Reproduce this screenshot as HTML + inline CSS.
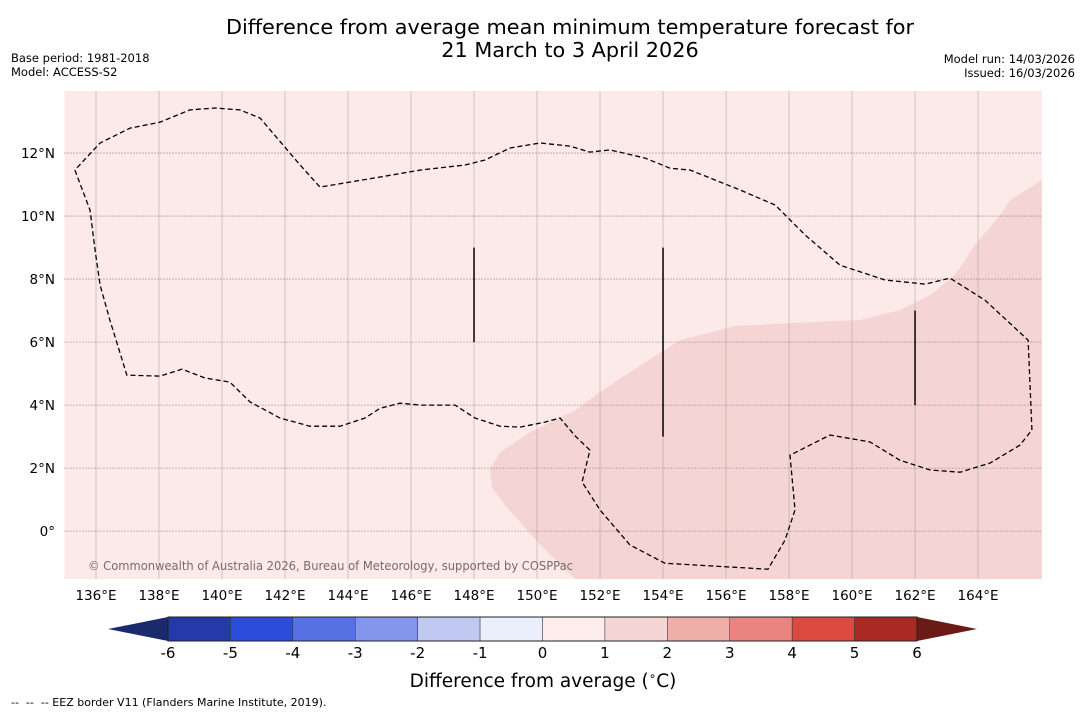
<!DOCTYPE html>
<html><head><meta charset="utf-8"><style>
body{margin:0;background:#fff;font-family:"Liberation Sans","DejaVu Sans",sans-serif;}
svg text{font-family:"DejaVu Sans","Liberation Sans",sans-serif;}
</style></head><body>
<svg id="chart" width="1085" height="713" viewBox="0 0 1085 713" xmlns="http://www.w3.org/2000/svg">
<text x="570" y="34" text-anchor="middle" font-size="20.8">Difference from average mean minimum temperature forecast for</text>
<text x="570" y="57" text-anchor="middle" font-size="20.8">21 March to 3 April 2026</text>
<text x="11" y="62" font-size="11.5">Base period: 1981-2018</text>
<text x="11" y="76" font-size="11.5">Model: ACCESS-S2</text>
<text x="1075" y="63" text-anchor="end" font-size="11.5">Model run: 14/03/2026</text>
<text x="1075" y="77" text-anchor="end" font-size="11.5">Issued: 16/03/2026</text>
<g id="map"></g>
<g id="cbar"></g>
<text x="543" y="687" text-anchor="middle" font-size="18.5">Difference from average (<tspan font-size="12" dy="-7">∘</tspan><tspan dy="7">C)</tspan></text>
<text x="11" y="706" font-size="11" xml:space="preserve">--  --  -- EEZ border V11 (Flanders Marine Institute, 2019).</text>
</svg>
<script>
const lonTicks=[136,138,140,142,144,146,148,150,152,154,156,158,160,162,164];
const latTicks=[0,2,4,6,8,10,12];
const anomalyRegion=[[148.51,1.97],[148.83,2.51],[149.78,3.14],[151.21,3.84],[152.0,4.41],[152.95,5.05],[154.54,6.06],[156.29,6.51],[158.03,6.6],[160.25,6.7],[161.52,7.02],[162.48,7.49],[163.27,8.13],[163.9,9.08],[164.7,10.03],[165.02,10.51],[166.03,11.14],[166.03,-1.52],[151.21,-1.52],[150.1,-0.44],[148.98,0.83],[148.57,1.37]];
const eezBorder=[[135.33,11.46],[135.81,10.19],[135.97,8.92],[136.13,7.81],[136.44,6.7],[136.98,4.95],[138.03,4.92],[138.73,5.14],[139.46,4.86],[140.25,4.73],[140.89,4.1],[141.84,3.59],[142.79,3.33],[143.75,3.33],[144.54,3.59],[145.02,3.9],[145.65,4.06],[146.29,4.0],[147.4,4.0],[148.03,3.59],[148.83,3.33],[149.46,3.3],[150.25,3.46],[150.73,3.59],[151.21,3.02],[151.68,2.57],[151.43,1.56],[152.0,0.67],[152.95,-0.44],[154.06,-1.02],[156.13,-1.14],[157.33,-1.21],[157.87,-0.29],[158.19,0.67],[158.03,2.41],[158.35,2.57],[159.3,3.05],[160.57,2.83],[161.52,2.25],[162.48,1.94],[163.43,1.87],[164.38,2.16],[165.33,2.73],[165.71,3.21],[165.59,6.06],[164.22,7.33],[163.11,8.03],[162.32,7.84],[161.05,7.97],[159.62,8.44],[158.51,9.4],[157.56,10.35],[156.44,10.83],[155.49,11.21],[154.86,11.46],[154.22,11.52],[153.43,11.84],[152.32,12.1],[151.68,12.03],[151.05,12.22],[150.1,12.32],[149.14,12.16],[148.35,11.78],[147.71,11.62],[146.29,11.46],[145.02,11.24],[143.11,10.92],[142.48,11.62],[141.21,13.11],[140.57,13.37],[139.78,13.43],[138.98,13.37],[138.03,12.98],[137.08,12.79],[136.13,12.32],[135.33,11.46]];
const boundaryLines=[[148,9,6],[154,9,3],[162,7,4]];
const cbarLevels=[-6,-5,-4,-3,-2,-1,0,1,2,3,4,5,6];
const cbarColors=["#233aa8","#2c4ddc","#5671e3","#8396eb","#c1c9f3","#ebeefb","#fcecea","#f6d5d5","#efafa9","#e7857e","#da4a40","#a92a23"];
const extColors=["#1a2a6c","#6c1a15"];

const NS="http://www.w3.org/2000/svg";
const X0=64.5,Y0=91,W=977.5,H=488,LON0=135,LON1=166.03,LAT0=-1.52,LAT1=13.97;
const xs=l=>X0+(l-LON0)/(LON1-LON0)*W;
const ys=l=>Y0+(LAT1-l)/(LAT1-LAT0)*H;
function mk(t,a,p){const e=document.createElementNS(NS,t);for(const k in a)e.setAttribute(k,a[k]);p.appendChild(e);return e;}
const map=document.getElementById('map');
let bg=mk('rect',{x:X0,y:Y0,width:W,height:H,fill:'#fbeae8'},map);


let reg=mk('polygon',{points:anomalyRegion.map(p=>xs(p[0])+','+ys(p[1])).join(' '),fill:'#f5d5d4'},map);


lonTicks.forEach(l=>{
  let g=mk('line',{x1:xs(l),x2:xs(l),y1:Y0,y2:Y0+H,stroke:'#999',"stroke-width":0.8,opacity:0.6},map);
  
  
  let t=mk('text',{x:xs(l),y:600,"text-anchor":"middle","font-size":13.5},map);t.textContent=l+'°E';
  
  
});
latTicks.forEach(l=>{
  let g=mk('line',{x1:X0,x2:X0+W,y1:ys(l),y2:ys(l),stroke:'#666',"stroke-width":0.8,"stroke-dasharray":"1,2"},map);
  
  
  let t=mk('text',{x:55,y:ys(l)+5,"text-anchor":"end","font-size":13.5},map);t.textContent=l===0?'0°':l+'°N';
  
  
});
let eez=mk('polyline',{points:eezBorder.map(p=>xs(p[0])+','+ys(p[1])).join(' '),fill:'none',stroke:'#000',"stroke-width":1.3,"stroke-dasharray":"5,3"},map);


boundaryLines.forEach(b=>{
  let l=mk('line',{x1:xs(b[0]),x2:xs(b[0]),y1:ys(b[1]),y2:ys(b[2]),stroke:'#000',"stroke-width":1.5},map);
  
  
});
let cp=mk('text',{x:88,y:570,"font-size":12,fill:'#7a6a6a',textLength:485,lengthAdjust:'spacingAndGlyphs'},map);cp.textContent='© Commonwealth of Australia 2026, Bureau of Meteorology, supported by COSPPac';



const cb=document.getElementById('cbar');
const CX0=168,CX1=917,CY=617,CH=24;
const cx=v=>CX0+(v-cbarLevels[0])/(cbarLevels[cbarLevels.length-1]-cbarLevels[0])*(CX1-CX0);
let el=mk('polygon',{points:`${cx(-6)},${CY} ${cx(-6)},${CY+CH} 108,${CY+CH/2}`,fill:extColors[0]},cb);


let er=mk('polygon',{points:`${cx(6)},${CY} ${cx(6)},${CY+CH} 977,${CY+CH/2}`,fill:extColors[1]},cb);


cbarColors.forEach((c,i)=>{
  let r=mk('rect',{x:cx(cbarLevels[i]),y:CY,width:cx(cbarLevels[i+1])-cx(cbarLevels[i]),height:CH,fill:c,stroke:'#333',"stroke-width":0.5},cb);
  
  
});
mk('rect',{x:cx(-6),y:CY,width:cx(6)-cx(-6),height:CH,fill:'none',stroke:'#222',"stroke-width":1},cb);
cbarLevels.forEach(v=>{
  let t=mk('text',{x:cx(v),y:658,"text-anchor":"middle","font-size":15},cb);t.textContent=v;
  
  
});
</script>
</body></html>
